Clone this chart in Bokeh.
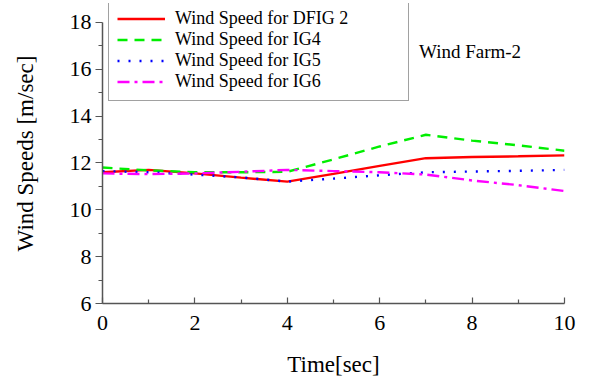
from bokeh.plotting import figure
from bokeh.models import Legend, LegendItem, Range1d, FixedTicker, Label
from bokeh.embed import file_html
from bokeh.resources import INLINE

time_s = [0, 1, 2, 3, 4, 5, 6, 7, 8, 9, 10]
dfig2 = [11.6, 11.7, 11.55, 11.37, 11.2, 11.53, 11.87, 12.2, 12.25, 12.28, 12.32]
ig4 = [11.8, 11.68, 11.6, 11.6, 11.62, 12.15, 12.7, 13.2, 12.95, 12.75, 12.52]
ig5 = [11.65, 11.6, 11.5, 11.38, 11.2, 11.33, 11.47, 11.6, 11.63, 11.66, 11.7]
ig6 = [11.55, 11.52, 11.55, 11.62, 11.7, 11.65, 11.6, 11.5, 11.25, 11.05, 10.8]
labels = ["Wind Speed for DFIG 2", "Wind Speed for IG4", "Wind Speed for IG5", "Wind Speed for IG6"]
x_ticks = [0, 2, 4, 6, 8, 10]
y_ticks = [6, 8, 10, 12, 14, 16, 18]

FONT = "Liberation Serif"

p = figure(width=589, height=379, output_backend="svg", toolbar_location=None,
           x_range=Range1d(0, 10), y_range=Range1d(6, 18.8),
           min_border_left=102, min_border_right=25, min_border_top=3, min_border_bottom=75)
p.outline_line_color = None
p.grid.visible = False
p.background_fill_color = "white"
p.border_fill_color = "white"

r1 = p.line(time_s, dfig2, line_color="#ff0000", line_width=2.4)
r2 = p.line(time_s, ig4, line_color="#00ee00", line_width=2.4, line_dash="10 7")
r3 = p.line(time_s, ig5, line_color="#0000ff", line_width=2.4, line_dash="2 9")
r4 = p.line(time_s, ig6, line_color="#ff00ff", line_width=2.4, line_dash="12 5 3 5")

for ax in (p.xaxis[0], p.yaxis[0]):
    ax.axis_line_color = "#555555"
    ax.axis_line_width = 1.5
    ax.major_tick_line_color = "#555555"
    ax.minor_tick_line_color = "#555555"
    ax.major_tick_line_width = 1.2
    ax.minor_tick_line_width = 1.2
    ax.major_label_text_font = FONT
    ax.major_label_text_font_size = "22px"
    ax.major_label_text_color = "black"
    ax.axis_label_text_font = FONT
    ax.axis_label_text_font_size = "23px"
    ax.axis_label_text_font_style = "normal"
    ax.axis_label_text_color = "black"

p.xaxis.ticker = FixedTicker(ticks=x_ticks, minor_ticks=[1, 3, 5, 7, 9])
p.yaxis.ticker = FixedTicker(ticks=y_ticks, minor_ticks=[7, 9, 11, 13, 15, 17])
p.yaxis.bounds = (6, 18)
p.xaxis.major_tick_in = 6
p.xaxis.major_tick_out = 0
p.xaxis.minor_tick_in = 4
p.xaxis.minor_tick_out = 0
p.xaxis.major_label_standoff = 12
p.xaxis.axis_label = "Time[sec]"
p.xaxis.axis_label_standoff = 19

p.yaxis.major_tick_in = 0
p.yaxis.major_tick_out = 7
p.yaxis.minor_tick_in = 0
p.yaxis.minor_tick_out = 4
p.yaxis.major_label_standoff = 4
p.yaxis.axis_label = "Wind Speeds [m/sec]"
p.yaxis.axis_label_standoff = 29

legend = Legend(items=[LegendItem(label=l, renderers=[r]) for l, r in zip(labels, [r1, r2, r3, r4])],
                location=(6, 202))
legend.label_text_font = FONT
legend.label_text_font_size = "18px"
legend.label_text_color = "black"
legend.label_text_line_height = 1.0
legend.border_line_color = "#444444"
legend.border_line_width = 1.5
legend.background_fill_alpha = 1
legend.padding = 8
legend.spacing = 0
legend.glyph_width = 48
legend.glyph_height = 21
legend.label_height = 21
legend.label_standoff = 10
legend.label_width = 225
legend.margin = 0
p.add_layout(legend, "center")

p.add_layout(Label(x=6.85, y=16.75, text="Wind Farm-2", text_font=FONT, text_font_size="19px",
                   text_baseline="middle", text_color="black"))

open("out.html", "w").write(file_html(p, INLINE))
